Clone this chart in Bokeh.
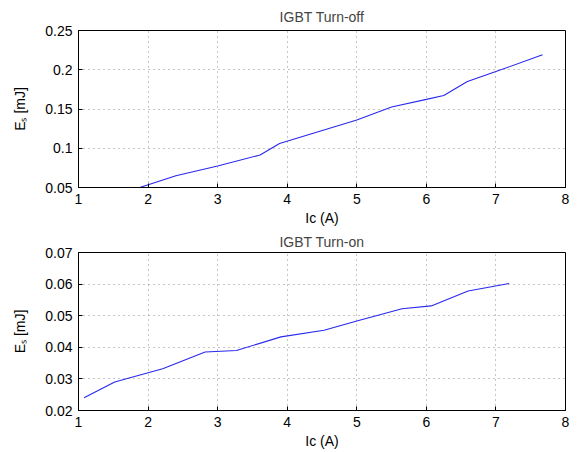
from bokeh.plotting import figure
from bokeh.layouts import column
from bokeh.models import FixedTicker
from bokeh.embed import file_html
from bokeh.resources import INLINE

# ---- data ----
off_ic = [1.88, 2.4, 3.0, 3.61, 3.89, 5.0, 5.5, 6.0, 6.25, 6.59, 7.0, 7.67]
off_es = [0.05, 0.065, 0.0775, 0.0914, 0.106, 0.136, 0.1525, 0.1623, 0.1673, 0.185, 0.1977, 0.219]

on_ic = [1.08, 1.52, 2.21, 2.82, 3.27, 3.91, 4.53, 5.0, 5.65, 6.07, 6.60, 7.19]
on_es = [0.024, 0.029, 0.0332, 0.0385, 0.039, 0.0433, 0.0454, 0.0483, 0.0522, 0.0531, 0.0578, 0.0602]

x_ticks = [1, 2, 3, 4, 5, 6, 7, 8]
off_y_ticks = [0.05, 0.1, 0.15, 0.2, 0.25]
off_y_labels = ["0.05", "0.1", "0.15", "0.2", "0.25"]
on_y_ticks = [0.02, 0.03, 0.04, 0.05, 0.06, 0.07]
on_y_labels = ["0.02", "0.03", "0.04", "0.05", "0.06", "0.07"]

titles = ["IGBT Turn-off", "IGBT Turn-on"]
x_label = "Ic (A)"
y_label = "E\u209b [mJ]"

FONT = "Liberation Sans"


def make(title, xs, ys, yticks, ylabels, yr, border_top, border_bottom, fh, title_standoff):
    p = figure(frame_width=487, frame_height=fh, x_range=(1, 8), y_range=yr,
               output_backend="svg", toolbar_location=None, title=title,
               min_border_left=78, min_border_right=6,
               min_border_top=border_top, min_border_bottom=border_bottom,
               background_fill_color="white", border_fill_color="white")
    p.title.align = "center"
    p.title.text_font = FONT
    p.title.text_font_size = "14px"
    p.title.text_font_style = "normal"
    p.title.standoff = title_standoff
    p.outline_line_color = "black"
    p.outline_line_width = 1

    p.line(xs, ys, line_color="#2828ee", line_width=1.1)

    p.xaxis.ticker = FixedTicker(ticks=x_ticks)
    p.yaxis.ticker = FixedTicker(ticks=yticks)
    p.yaxis.major_label_overrides = {t: l for t, l in zip(yticks, ylabels)}
    for ax in (p.xaxis[0], p.yaxis[0]):
        ax.major_tick_in = 4
        ax.major_tick_out = 0
        ax.minor_tick_line_color = None
        ax.axis_line_color = "black"
        ax.major_label_text_font = FONT
        ax.major_label_text_font_size = "14px"
        ax.major_label_text_color = "black"
        ax.axis_label_text_font = FONT
        ax.axis_label_text_font_size = "14px"
        ax.axis_label_text_font_style = "normal"
        ax.axis_label_text_color = "black"
    p.xaxis.axis_label = x_label
    p.yaxis.axis_label = y_label
    p.xaxis.major_label_standoff = 6
    p.xaxis.axis_label_standoff = 3
    p.yaxis.major_label_standoff = 6
    p.yaxis.axis_label_standoff = 14

    for g in (p.xgrid[0], p.ygrid[0]):
        g.grid_line_color = "#8c8c8c"
        g.grid_line_dash = "1 4"
        g.grid_line_width = 1
    p.xgrid.ticker = FixedTicker(ticks=x_ticks)
    p.ygrid.ticker = FixedTicker(ticks=yticks)
    return p


p1 = make(titles[0], off_ic, off_es, off_y_ticks, off_y_labels, (0.05, 0.25), 30, 41, 157, 11)
p2 = make(titles[1], on_ic, on_es, on_y_ticks, on_y_labels, (0.02, 0.07), 24, 38, 158, 6)

layout = column(p1, p2, spacing=0)
open("out.html", "w").write(file_html(layout, INLINE))
